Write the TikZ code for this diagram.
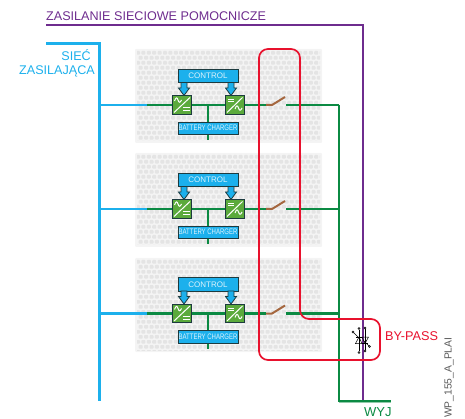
\documentclass[tikz,border=0pt]{standalone}
\usepackage{fontspec}
\usepackage{graphicx}
\setmainfont{Liberation Sans}
\definecolor{cblue}{HTML}{1CB0EC}
\definecolor{cgreen}{HTML}{0B8A43}
\definecolor{cpurple}{HTML}{6E2C8E}
\definecolor{cred}{HTML}{E8112D}
\definecolor{cbrown}{HTML}{A5673F}
\definecolor{cbox}{HTML}{5BAA3C}
\definecolor{cdark}{HTML}{1D3B3F}
\definecolor{cpanel}{HTML}{F4F4F4}
\definecolor{cdot}{HTML}{E4E4E4}
\tikzset{
  x=1pt,y=-1pt,
  bluewire/.style={draw=cblue,line width=3pt},
  branchblue/.style={draw=cblue,line width=2.6pt},
  greenwire/.style={draw=cgreen,line width=2.6pt},
  purplewire/.style={draw=cpurple,line width=2.7pt},
  redloop/.style={draw=cred,line width=1.7pt,rounded corners=9pt},
  swblade/.style={draw=cbrown,line width=2pt},
  conv/.style={draw=cdark,line width=1pt,fill=cbox,minimum width=19.5pt,minimum height=18.5pt,inner sep=0pt},
  bluebox/.style={draw=cdark,line width=0.8pt,fill=cblue,text=white!85!cblue,inner sep=0pt,minimum height=13.5pt,minimum width=60pt,align=center},
  arrowblue/.style={draw=cdark,line width=0.8pt,fill=cblue},
  icon/.style={draw=white,line width=1pt},
  triac/.style={draw=black,line width=0.5pt},
  tdot/.style={circle,draw=black,fill=white,line width=0.5pt,inner sep=0pt,minimum size=2pt}
}
\begin{document}
\begin{tikzpicture}
\useasboundingbox (0,0) rectangle (465,419);
% panels
\foreach \r/\dy in {a/0,b/104,c/209}{
  \begin{scope}[yshift=-\dy pt]
    \fill[cpanel,rounded corners=1pt] (135,49) rectangle (322,143);
    \begin{scope}
      \clip (137,51) rectangle (320,141);
      \foreach \j in {0,...,18}{
        \pgfmathsetmacro{\off}{mod(\j,2)*2.7}
        \pgfmathsetmacro{\yy}{51+\j*5}
        \foreach \i in {0,...,34}{
          \fill[cdot,rounded corners=0.8pt] ({136+\off+\i*5.4},\yy) rectangle +(4,3.6);
        }
      }
    \end{scope}
  \end{scope}
}
% trunks
\coordinate (pstart) at (46,25);
\coordinate (pcorner) at (363,25);
\coordinate (pend) at (363,401);
\draw[purplewire] (pstart) -- (pcorner) -- (pend);
\coordinate (bstart) at (46,44);
\coordinate (bcorner) at (99,44);
\coordinate (bend) at (99,401);
\draw[bluewire] (bstart) -- (bcorner) -- (bend);
\coordinate (gtop) at (339,105);
\coordinate (gcorner) at (339,401);
\coordinate (gend) at (391,401);
\draw[draw=cgreen!45,line width=1pt] (339,402.7) -- (391,402.7);
\draw[greenwire] (gtop) -- (gcorner) -- (gend);
% rows
\foreach \r/\dy in {a/0,b/104,c/208.5}{
  \begin{scope}[yshift=-\dy pt]
    \coordinate (j\r) at (99,105);
    \coordinate (bg\r) at (147,105);
    \coordinate (t\r) at (208,105);
    \coordinate (tb\r) at (208,140);
    \coordinate (s1\r) at (266,105);
    \coordinate (s2\r) at (272,105);
    \coordinate (s3\r) at (285,97);
    \coordinate (o\r) at (286,105);
    \coordinate (e\r) at (339,105);
    \coordinate (il\r) at (172,105);
    \coordinate (ir\r) at (245,105);
    \draw[greenwire] (bg\r) -- (il\r);
    \draw[branchblue] (j\r) -- (bg\r);
    \draw[greenwire] (il\r) -- (ir\r);
    \draw[greenwire] (ir\r) -- (s1\r);
    \draw[greenwire] (t\r) -- (tb\r);
    \draw[swblade] (s1\r) -- (s2\r) -- (s3\r);
    \draw[greenwire] (o\r) -- (e\r);
    \node[conv] (cl\r) at (182,105) {};
    \node[conv] (cr\r) at (234.8,105) {};
    \node[bluebox,minimum height=12.5pt,font=\fontsize{8}{9}\selectfont] (bat\r) at (208,128.2) {\scalebox{0.75}[1]{BATTERY CHARGER}};
    \node[bluebox,font=\fontsize{8}{9}\selectfont] (ctrl\r) at (208,75.8) {CONTROL};
    % arrows
    \foreach \ax in {184,231}{
      \draw[arrowblue] (\ax-3,82.5) -- (\ax+3,82.5) -- (\ax+3,88) -- (\ax+5.5,88) -- (\ax,95.5) -- (\ax-5.5,88) -- (\ax-3,88) -- cycle;
    }
    % left converter icon
    \draw[icon] (174,112.5) -- (190,97.5);
    \draw[icon] (174.5,101) .. controls (176,97) and (177,97) .. (178,100) .. controls (179,103) and (180,103) .. (181.5,100);
    \draw[icon] (183,108) -- (189.5,108) (183,110.5) -- (189.5,110.5);
    % right converter icon
    \draw[icon] (227,112.5) -- (242.5,97.5);
    \draw[icon] (228,99.5) -- (234,99.5) (228,102) -- (234,102);
    \draw[icon] (235,109) .. controls (236.5,105) and (237.5,105) .. (238.5,108) .. controls (239.5,111) and (240.5,111) .. (242,108);
  \end{scope}
}
% by-pass loop
\coordinate (r1) at (259,49);
\coordinate (r2) at (300,49);
\coordinate (r3) at (300,319);
\coordinate (r4) at (380,319);
\coordinate (r5) at (380,360);
\coordinate (r6) at (259,360);
\draw[redloop] (r1) -- (r2) -- (r3) -- (r4) -- (r5) -- (r6) -- cycle;
% triac
\begin{scope}[shift={(362,340)}]
  \draw[triac] (-3,-10) -- (-3,11) (3,-11) -- (3,10);
  \draw[triac] (-6.5,3.5) -- (0,3.5) -- (-3,-3) -- cycle;
  \draw[triac] (0,-3) -- (6.5,-3) -- (3,3.5) -- cycle;
  \draw[triac] (-6,-3) -- (0,-3) (0,3.5) -- (6,3.5);
  \draw[triac] (-9,-8) -- (-2,-1) (2,1) -- (7,6);
  \node[tdot] at (-3,-11.5) {};
  \node[tdot] at (3,-12) {};
  \node[tdot] at (-3,12.5) {};
  \node[tdot] at (3,11) {};
  \node[tdot] at (-9,-8) {};
  \node[tdot] at (7.5,6.5) {};
\end{scope}
% labels
\node[anchor=west,inner sep=0pt,text=cpurple,font=\fontsize{12.6}{14}\selectfont] (ltop) at (46,16) {ZASILANIE SIECIOWE POMOCNICZE};
\node[anchor=east,inner sep=0pt,text=cblue,font=\fontsize{12.6}{14}\selectfont] (lsiec) at (91,55) {SIEĆ};
\node[anchor=east,inner sep=0pt,text=cblue,font=\fontsize{12.6}{14}\selectfont] (lzas) at (95,71) {ZASILAJĄCA};
\node[anchor=west,inner sep=0pt,text=cred,font=\fontsize{12.7}{14}\selectfont] (lby) at (385,336.5) {BY-PASS};
\node[anchor=west,inner sep=0pt,text=cgreen,font=\fontsize{13}{15}\selectfont] (lwyj) at (364,412.5) {WYJ};
\node[anchor=west,rotate=90,inner sep=0pt,text=black!65,font=\fontsize{10.3}{12}\selectfont] (lwp) at (449,418) {WP\_155\_A\_PLAI};
\end{tikzpicture}
\end{document}
